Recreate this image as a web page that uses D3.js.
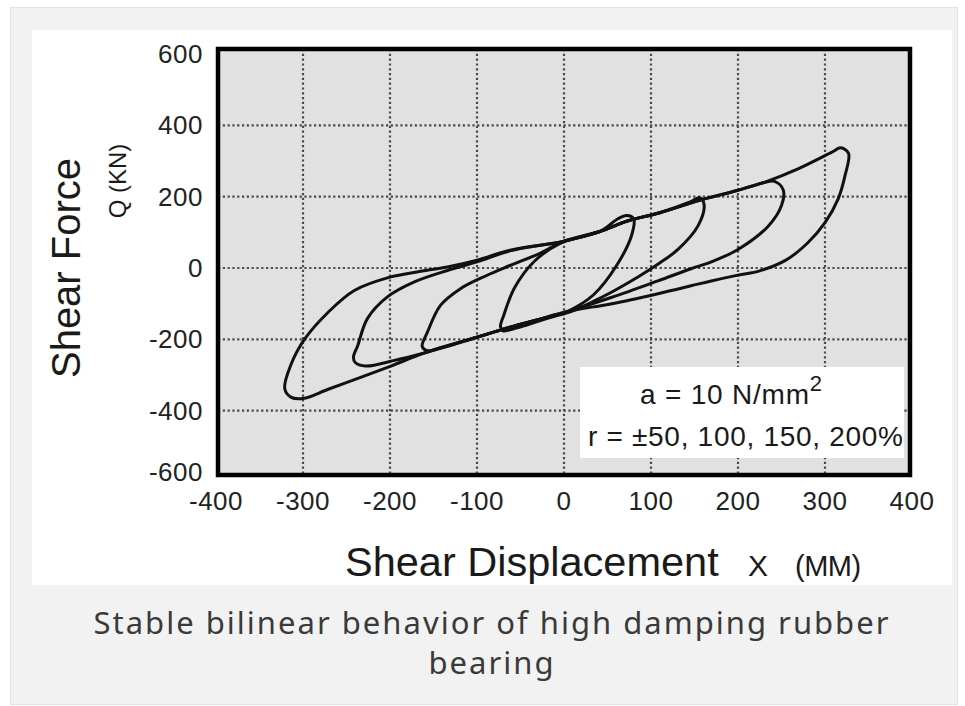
<!DOCTYPE html>
<html>
<head>
<meta charset="utf-8">
<script src="https://cdn.jsdelivr.net/npm/d3@7"></script>
<style>
  body { margin: 0; background: #fff; }
  text { font-family: "Liberation Sans", Arial, sans-serif; }
</style>
</head>
<body>
<div id="chart"></div>
<script>
// axis ticks
var xTicks = [-400, -300, -200, -100, 0, 100, 200, 300, 400];
var yTicks = [-600, -400, -200, 0, 200, 400, 600];

// hysteresis loops, [displacement mm, force kN]
var loop75 = [[72,147],[80,138],[78,94],[61,9],[34,-75],[4,-122],[-20,-142],[-42,-159],
  [-62,-173],[-70,-176],[-73,-165],[-69,-131],[-57,-56],[-34,19],[-4,70],[42,103],[62,138]];
var loop160 = [[156,197],[161,178],[154,118],[131,52],[110,14],[85,-25],[45,-80],[8,-122],
  [-30,-145],[-62,-166],[-100,-194],[-140,-222],[-157,-232],[-163,-220],[-157,-180],[-142,-105],
  [-119,-58],[-89,-21],[-62,7],[-27,42],[0,75],[42,103],[72,131],[110,155],[145,185]];
var loop240 = [[242,243],[252,219],[250,175],[235,118],[200,52],[170,18],[146,-2],[108,-36],
  [55,-82],[4,-122],[-30,-145],[-62,-166],[-100,-194],[-140,-224],[-165,-241],[-195,-259],
  [-228,-275],[-240,-265],[-242,-250],[-237,-217],[-226,-142],[-203,-81],[-172,-39],[-134,-7],
  [-100,17],[-62,48],[0,75],[42,103],[72,131],[110,155],[156,190],[200,218],[228,238]];
var loop320 = [[318,337],[327,322],[323,259],[315,193],[300,127],[280,70],[255,22],[225,-8],
  [200,-20],[168,-37],[146,-50],[108,-72],[55,-100],[4,-122],[-30,-145],[-62,-166],[-100,-194],
  [-160,-238],[-199,-275],[-233,-306],[-271,-340],[-300,-366],[-314,-362],[-321,-338],
  [-314,-272],[-298,-199],[-271,-124],[-241,-63],[-199,-25],[-169,-11],[-134,3],
  [-100,22],[-62,50],[0,75],[42,103],[72,131],[110,155],[156,190],[200,218],[231,241],
  [269,278],[308,325]];
var loops = [loop75, loop160, loop240, loop320];

var width = 965, height = 706;
var plot = {left: 218, right: 910, top: 49, bottom: 475};

var svg = d3.select('#chart').append('svg')
  .attr('width', width)
  .attr('height', height);

// outer caption panel + figure background
svg.append('rect')
  .attr('x', 10.5).attr('y', 7.5).attr('width', 947).attr('height', 697)
  .attr('fill', '#f2f2f2').attr('stroke', '#e2e2e2');
svg.append('rect')
  .attr('x', 32).attr('y', 30).attr('width', 920).attr('height', 555)
  .attr('fill', '#fff');

var x = d3.scaleLinear().domain([-400, 400]).range([216, 912]);
var y = d3.scaleLinear().domain([-600, 600]).range([482, 54]);

svg.append('rect')
  .attr('x', plot.left).attr('y', plot.top)
  .attr('width', plot.right - plot.left).attr('height', plot.bottom - plot.top)
  .attr('fill', '#e1e1e1');

svg.append('clipPath').attr('id', 'clip')
  .append('rect')
  .attr('x', plot.left).attr('y', plot.top)
  .attr('width', plot.right - plot.left).attr('height', plot.bottom - plot.top);

var grid = svg.append('g').attr('clip-path', 'url(#clip)')
  .attr('stroke', '#4a4a4a').attr('stroke-width', 2.2).attr('stroke-dasharray', '2.2,2.6');

grid.selectAll('.vgrid')
  .data(xTicks.slice(1, -1))
  .enter().append('line').attr('class', 'vgrid')
  .attr('x1', function(d) { return x(d); }).attr('x2', function(d) { return x(d); })
  .attr('y1', plot.top).attr('y2', plot.bottom);

grid.selectAll('.hgrid')
  .data(yTicks.slice(1, -1))
  .enter().append('line').attr('class', 'hgrid')
  .attr('x1', plot.left).attr('x2', plot.right)
  .attr('y1', function(d) { return y(d); }).attr('y2', function(d) { return y(d); });

// legend box sits above the grid
svg.append('rect')
  .attr('x', 580).attr('y', 367).attr('width', 324).attr('height', 91)
  .attr('fill', '#fff');

var line = d3.line()
  .x(function(d) { return x(d[0]); })
  .y(function(d) { return y(d[1]); })
  .curve(d3.curveCatmullRomClosed.alpha(0.5));

svg.append('g').attr('clip-path', 'url(#clip)')
  .selectAll('path')
  .data(loops)
  .enter().append('path')
  .attr('d', line)
  .attr('fill', 'none')
  .attr('stroke', '#111')
  .attr('stroke-width', 3)
  .attr('stroke-linejoin', 'round');

svg.append('rect')
  .attr('x', plot.left).attr('y', plot.top)
  .attr('width', plot.right - plot.left).attr('height', plot.bottom - plot.top)
  .attr('fill', 'none').attr('stroke', '#000').attr('stroke-width', 4.5);

// tick labels
svg.selectAll('.xlab')
  .data(xTicks)
  .enter().append('text').attr('class', 'xlab')
  .attr('x', function(d) { return x(d); })
  .attr('y', 510)
  .attr('text-anchor', 'middle')
  .style('font-size', '26px')
  .style('letter-spacing', '0.5px')
  .style('fill', '#222')
  .text(function(d) { return d; });

svg.selectAll('.ylab')
  .data(yTicks)
  .enter().append('text').attr('class', 'ylab')
  .attr('x', 203)
  .attr('y', function(d) { return Math.min(y(d), 472) + 9; })
  .attr('text-anchor', 'end')
  .style('font-size', '26px')
  .style('letter-spacing', '0.5px')
  .style('fill', '#222')
  .text(function(d) { return d; });

// axis titles
svg.append('text')
  .attr('transform', 'translate(80,268) rotate(-90)')
  .attr('text-anchor', 'middle')
  .style('font-size', '40px')
  .style('fill', '#1a1a1a')
  .text('Shear Force');

svg.append('text')
  .attr('transform', 'translate(126,181) rotate(-90)')
  .attr('text-anchor', 'middle')
  .style('font-size', '24px')
  .style('fill', '#1a1a1a')
  .text('Q (KN)');

svg.append('text')
  .attr('x', 345).attr('y', 576)
  .style('font-size', '41.5px')
  .style('fill', '#1a1a1a')
  .text('Shear Displacement');

svg.append('text')
  .attr('x', 748).attr('y', 576)
  .style('font-size', '30px')
  .style('fill', '#1a1a1a')
  .text('X');
svg.append('text')
  .attr('x', 795).attr('y', 576)
  .style('font-size', '29px')
  .style('letter-spacing', '-0.5px')
  .style('fill', '#1a1a1a')
  .text('(MM)');

// legend text
var l1 = svg.append('text')
  .attr('x', 640).attr('y', 404)
  .style('font-size', '28px')
  .style('letter-spacing', '0.8px')
  .style('fill', '#1a1a1a');
l1.append('tspan').text('a = 10 N/mm');
l1.append('tspan').attr('dy', -13).style('font-size', '22px').text('2');

svg.append('text')
  .attr('x', 588).attr('y', 446)
  .style('font-size', '28px')
  .style('letter-spacing', '0.7px')
  .style('fill', '#1a1a1a')
  .text('r = ±50, 100, 150, 200%');

// caption
var capLines = ['Stable bilinear behavior of high damping rubber', 'bearing'];
var cap = svg.selectAll('.cap')
  .data(capLines)
  .enter().append('text').attr('class', 'cap')
  .attr('x', 492)
  .attr('y', function(d, i) { return 634 + i * 40; })
  .attr('text-anchor', 'middle')
  .style('font-family', '"Noto Sans", "Open Sans", sans-serif')
  .style('font-size', '31px')
  .style('fill', '#3a3a3a')
  .text(function(d) { return d; });

var first = cap.filter(function(d, i) { return i === 0; });
var w = first.node().getComputedTextLength();
var ls = Math.max(0, (795 - w) / (capLines[0].length - 1));
cap.style('letter-spacing', ls + 'px');
</script>
</body>
</html>
